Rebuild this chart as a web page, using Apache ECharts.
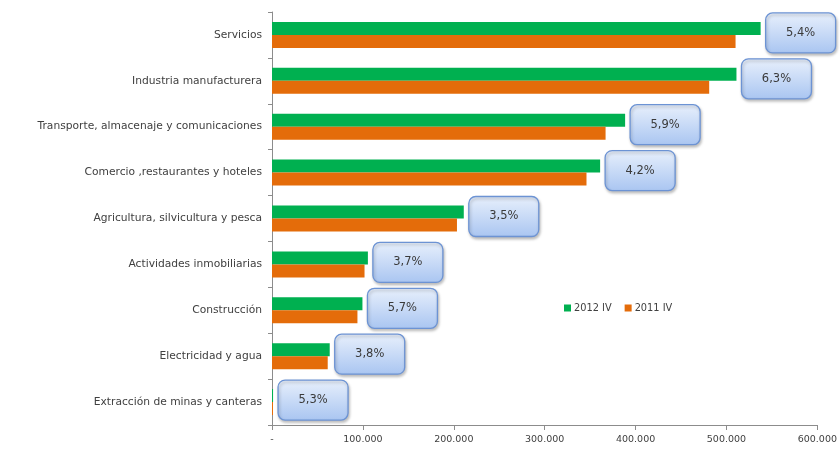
<!DOCTYPE html>
<html>
<head>
<meta charset="utf-8">
<script src="https://cdn.jsdelivr.net/npm/echarts@6/dist/echarts.min.js"></script>
<style>
  html, body { margin: 0; padding: 0; background: #fff; }
  #chart { width: 840px; height: 460px; }
</style>
</head>
<body>
<div id="chart"></div>
<script>
// Sectors, listed top to bottom
const sectors = [
  'Servicios',
  'Industria manufacturera',
  'Transporte, almacenaje y comunicaciones',
  'Comercio ,restaurantes y hoteles',
  'Agricultura, silvicultura y pesca',
  'Actividades inmobiliarias',
  'Construcción',
  'Electricidad y agua',
  'Extracción de minas y canteras'
];
const values2012 = [537600, 511000, 388500, 361000, 211000, 105500, 99500, 63500, 1160];
const values2011 = [510000, 481000, 367000, 346000, 203500, 101800, 94000, 61300, 1100];
const growth = ['5,4%', '6,3%', '5,9%', '4,2%', '3,5%', '3,7%', '5,7%', '3,8%', '5,3%'];
const xTicks = { min: 0, max: 600000, interval: 100000 };

const FONT = 'DejaVu Sans';
const chart = echarts.init(document.getElementById('chart'), null, { renderer: 'canvas' });

function fmtThousands(v) {
  if (v === 0) return '-';
  return String(v).replace(/\B(?=(\d{3})+(?!\d))/g, '.');
}

chart.setOption({
  animation: false,
  textStyle: { fontFamily: FONT },
  grid: { left: 272, right: 20, top: 12, bottom: 35, containLabel: false },
  legend: {
    data: ['2012 IV', '2011 IV'],
    left: 559, top: 298,
    itemWidth: 7, itemHeight: 7, itemGap: 13,
    icon: 'rect',
    textStyle: { fontSize: 9.8, color: '#404040', fontFamily: FONT, padding: [0, 0, 0, -2] }
  },
  xAxis: {
    type: 'value',
    min: xTicks.min, max: xTicks.max, interval: xTicks.interval,
    axisLine: { show: true, lineStyle: { color: '#8c8c8c', width: 1 } },
    axisTick: { show: true, length: 5, lineStyle: { color: '#8c8c8c' } },
    splitLine: { show: false },
    axisLabel: { formatter: fmtThousands, fontSize: 9.5, color: '#404040', margin: 10 }
  },
  yAxis: {
    type: 'category',
    inverse: true,
    data: sectors,
    axisLine: { show: true, lineStyle: { color: '#8c8c8c', width: 1 } },
    axisTick: { show: true, length: 4, lineStyle: { color: '#8c8c8c' } },
    axisLabel: { fontSize: 10.7, color: '#404040', margin: 10 }
  },
  series: [
    {
      name: '2012 IV', type: 'bar', data: values2012,
      itemStyle: { color: '#00b050' },
      barWidth: 13, barGap: '0%'
    },
    {
      name: '2011 IV', type: 'bar', data: values2011,
      itemStyle: { color: '#e46c0a' },
      barWidth: 13, barGap: '0%'
    },
    {
      // growth callouts anchored at the end of each 2012 bar
      name: 'growth', type: 'custom', z: 5,
      data: values2012.map((v, i) => [v, i, growth[i]]),
      encode: { x: 0, y: 1 },
      renderItem: function (params, api) {
        const p = api.coord([api.value(0), api.value(1)]);
        const w = 70, h = 40;
        const x = p[0] + 5, y = p[1] - 22;
        return {
          type: 'group',
          children: [
            {
              type: 'rect',
              shape: { x: x, y: y, width: w, height: h, r: 7 },
              style: {
                fill: new echarts.graphic.LinearGradient(0, 0, 0, 1, [
                  { offset: 0, color: '#e8f0fc' },
                  { offset: 1, color: '#a9c5f1' }
                ]),
                stroke: '#6c93d4', lineWidth: 1.3,
                shadowBlur: 3, shadowOffsetY: 2, shadowOffsetX: 1,
                shadowColor: 'rgba(0,0,0,0.25)'
              }
            },
            {
              type: 'text',
              style: {
                text: growth[params.dataIndex],
                x: x + w / 2, y: y + h / 2,
                align: 'center', verticalAlign: 'middle',
                fontSize: 11.5, fontFamily: FONT, fill: '#3a3a3a'
              }
            }
          ]
        };
      }
    }
  ]
});
</script>
</body>
</html>
